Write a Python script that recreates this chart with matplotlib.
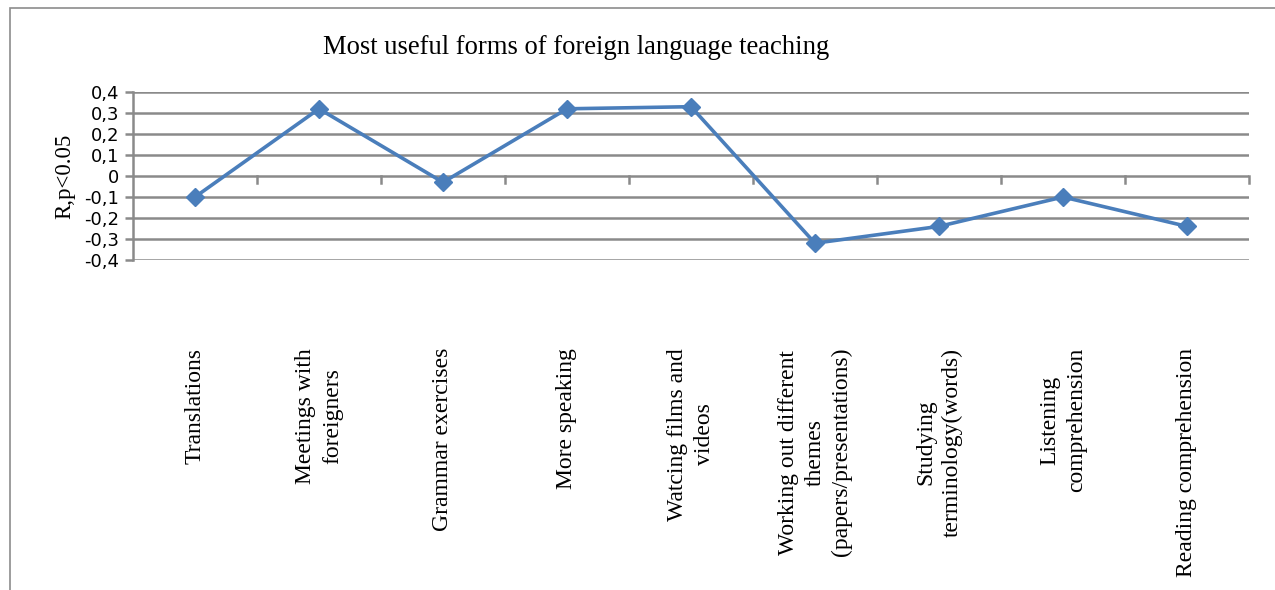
import numpy as np
import matplotlib
matplotlib.use("Agg")
import matplotlib.pyplot as plt
from matplotlib.patches import Rectangle
import matplotlib.transforms as mtransforms

# Data
categories = ["Translations", "Meetings with\nforeigners", "Grammar exercises",
              "More speaking", "Watcing films and\nvideos",
              "Working out different\nthemes\n(papers/presentations)",
              "Studying\nterminology(words)", "Listening\ncomprehension",
              "Reading comprehension"]
r_values = [-0.10, 0.32, -0.03, 0.32, 0.33, -0.32, -0.24, -0.10, -0.24]
y_ticks = [-0.4, -0.3, -0.2, -0.1, 0.0, 0.1, 0.2, 0.3, 0.4]
y_tick_labels = ["-0,4", "-0,3", "-0,2", "-0,1", "0", "0,1", "0,2", "0,3", "0,4"]

W, H = 1275, 590
fig = plt.figure(figsize=(W / 100, H / 100), dpi=100)
fig.patch.set_facecolor("white")

# outer chart border
fig.patches.append(Rectangle((10 / W, -0.1), 1.2, 1 - 8 / H + 0.1, transform=fig.transFigure,
                             fill=False, edgecolor="#8c8c8c", linewidth=1.2))

ax = fig.add_axes([133 / W, 1 - 260 / H, (1249 - 133) / W, (260 - 92) / H])
grid_col = "#8a8a8a"

x = np.arange(len(categories))
ax.set_xlim(-0.5, len(categories) - 0.5)
ax.set_ylim(-0.4, 0.4)

for yv in y_ticks:
    ax.axhline(yv, color=grid_col, linewidth=1.8, zorder=1)

ax.plot(x, r_values, color="#4a7ebb", linewidth=2.6, marker="D", markersize=9, zorder=3)

for s in ["top", "right", "bottom"]:
    ax.spines[s].set_visible(False)
ax.spines["left"].set_color(grid_col)
ax.spines["left"].set_linewidth(1.8)

ax.set_yticks(y_ticks)
ax.set_yticklabels(y_tick_labels, fontfamily="DejaVu Sans", fontsize=13)
ax.tick_params(axis="y", length=6, width=1.8, color=grid_col, pad=4)

# category boundary ticks hanging below the zero line
ax.set_xticks([])
for b in np.arange(0.5, len(categories), 1.0):
    ax.plot([b, b], [0, -0.035], color=grid_col, linewidth=1.8, zorder=1, clip_on=False)

# category labels, rotated, hanging from a fixed line below the plot
trans = mtransforms.blended_transform_factory(ax.transData, fig.transFigure)
for xi, lab in zip(x, categories):
    ax.text(xi, 1 - 348 / H, lab, transform=trans, rotation=90, ha="center", va="top",
            multialignment="center", fontfamily="Liberation Serif", fontsize=17,
            linespacing=1.35)

ax.set_ylabel("R,p<0.05", fontfamily="Liberation Serif", fontsize=16.5, labelpad=6)

fig.text(576 / W, 1 - 47 / H, "Most useful forms of foreign language teaching",
         ha="center", va="center", fontfamily="Liberation Serif", fontsize=19.2)

fig.savefig("out.png", dpi=100)
